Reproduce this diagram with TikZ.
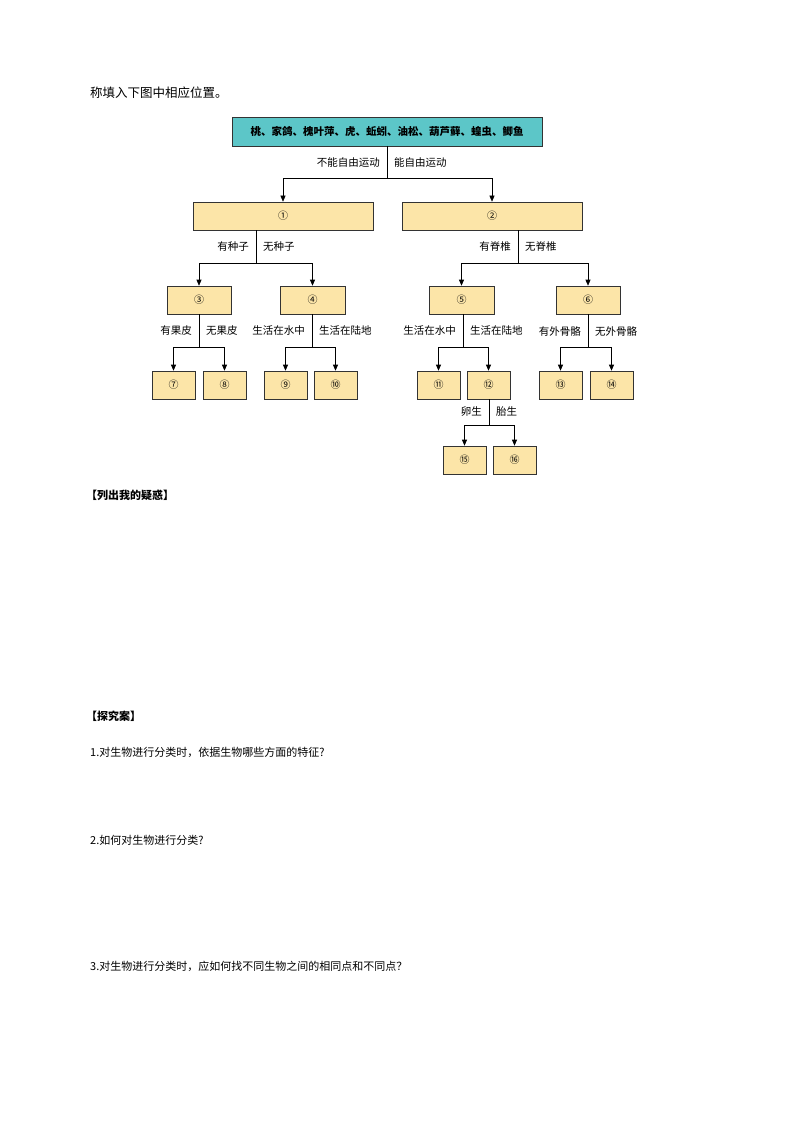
\documentclass[tikz,border=0pt]{standalone}
\usepackage{fontspec}
\setmainfont{Noto Sans CJK SC}
\usetikzlibrary{arrows.meta}
\begin{document}
\begin{tikzpicture}[x=1pt,y=-1pt,
  bx/.style={draw=black!80,line width=0.6pt,inner sep=0pt},
  ln/.style={draw=black,line width=0.6pt},
  ar/.style={ln,-{Triangle[length=6pt,width=5pt]}},
  lb/.style={font=\fontsize{10.5}{12}\selectfont,inner sep=0pt},
  tx/.style={font=\fontsize{11}{13}\selectfont,anchor=west,inner sep=0pt}]
\useasboundingbox (0,0) rectangle (794,1123);
\definecolor{bf}{HTML}{FCE5A8}
\definecolor{tl}{HTML}{5CC6C8}
\tikzset{bx/.append style={fill=bf}}
\newcommand\bxat[5]{\node[bx,minimum width=#3-#2,minimum height=#5-#4] (#1) at ({(#2+#3)/2},{(#4+#5)/2}) {};}
\node[tx,font=\fontsize{12.5}{14}\selectfont] (t0) at (90,93) {称填入下图中相应位置。};
% top
\node[draw=black!80,fill=tl,line width=0.6pt,minimum width=310,minimum height=29,inner sep=0pt,font=\fontsize{10.5}{12}\selectfont\bfseries] (top) at (387,131.5) {桃、家鸽、槐叶萍、虎、蚯蚓、油松、葫芦藓、蝗虫、鲫鱼};
\bxat{b1}{193}{373}{202}{230}\node at (b1) {\fontsize{10}{11}\selectfont ①};
\bxat{b2}{402}{582}{202}{230}\node at (b2) {\fontsize{10}{11}\selectfont ②};
\bxat{b3}{167}{231}{286}{314}\node at (b3) {\fontsize{10}{11}\selectfont ③};
\bxat{b4}{280}{345}{286}{314}\node at (b4) {\fontsize{10}{11}\selectfont ④};
\bxat{b5}{429}{494}{286}{314}\node at (b5) {\fontsize{10}{11}\selectfont ⑤};
\bxat{b6}{556}{620}{286}{314}\node at (b6) {\fontsize{10}{11}\selectfont ⑥};
\bxat{b7}{152}{195}{371}{399}\node at (b7) {\fontsize{10}{11}\selectfont ⑦};
\bxat{b8}{203}{246}{371}{399}\node at (b8) {\fontsize{10}{11}\selectfont ⑧};
\bxat{b9}{264}{307}{371}{399}\node at (b9) {\fontsize{10}{11}\selectfont ⑨};
\bxat{b10}{314}{357}{371}{399}\node at (b10) {\fontsize{10}{11}\selectfont ⑩};
\bxat{b11}{417}{460}{371}{399}\node at (b11) {\fontsize{10}{11}\selectfont ⑪};
\bxat{b12}{467}{510}{371}{399}\node at (b12) {\fontsize{10}{11}\selectfont ⑫};
\bxat{b13}{539}{582}{371}{399}\node at (b13) {\fontsize{10}{11}\selectfont ⑬};
\bxat{b14}{590}{633}{371}{399}\node at (b14) {\fontsize{10}{11}\selectfont ⑭};
\bxat{b15}{443}{486}{446}{474}\node at (b15) {\fontsize{10}{11}\selectfont ⑮};
\bxat{b16}{493}{536}{446}{474}\node at (b16) {\fontsize{10}{11}\selectfont ⑯};
\newcommand\split[8]{%
  \coordinate (j#1) at (#2,#3);
  \draw[ln] (#1.south -| j#1) -- (j#1);
  \draw[ar] (j#1) -| (#4.north);
  \draw[ar] (j#1) -| (#5.north);
  \node[lb,anchor=east] (l#1) at (#2-7,#8) {#6};
  \node[lb,anchor=west] (r#1) at (#2+7,#8) {#7};}
\split{top}{387}{178}{b1}{b2}{不能自由运动}{能自由运动}{163}
\split{b1}{256}{263}{b3}{b4}{有种子}{无种子}{247}
\split{b2}{518}{263}{b5}{b6}{有脊椎}{无脊椎}{247}
\split{b3}{199}{347}{b7}{b8}{有果皮}{无果皮}{331}
\split{b4}{312}{347}{b9}{b10}{生活在水中}{生活在陆地}{331}
\split{b5}{463}{347}{b11}{b12}{生活在水中}{生活在陆地}{331}
\split{b6}{588}{347}{b13}{b14}{有外骨骼}{无外骨骼}{331}
\split{b12}{489}{425}{b15}{b16}{卵生}{胎生}{412}
\node[tx,font=\fontsize{11}{13}\selectfont\bfseries] (h1) at (86,495) {【列出我的疑惑】};
\node[tx,font=\fontsize{11}{13}\selectfont\bfseries] (h2) at (86,716) {【探究案】};
\node[tx] (q1) at (90,752) {1.对生物进行分类时，依据生物哪些方面的特征?};
\node[tx] (q2) at (90,840) {2.如何对生物进行分类?};
\node[tx] (q3) at (90,966) {3.对生物进行分类时，应如何找不同生物之间的相同点和不同点？};
\end{tikzpicture}
\end{document}
